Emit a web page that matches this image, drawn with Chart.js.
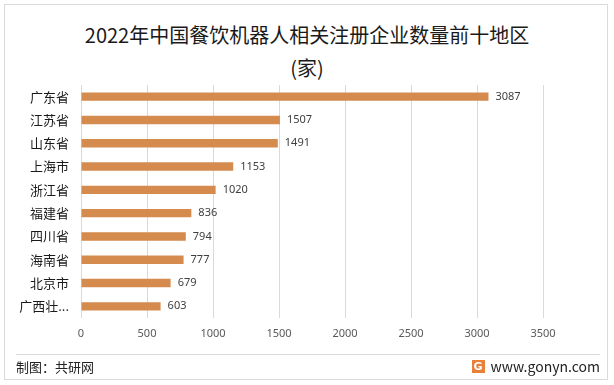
<!DOCTYPE html>
<html>
<head>
<meta charset="utf-8">
<script src="https://cdn.jsdelivr.net/npm/chart.js@4.4.0/dist/chart.umd.min.js"></script>
<style>
  html, body { margin: 0; padding: 0; background: #fff; }
  #wrap { position: relative; width: 614px; height: 385px; overflow: hidden;
          font-family: "Noto Sans CJK SC", "Noto Sans", sans-serif; }
  #frame { position: absolute; left: 4px; top: 4px; width: 604px; height: 376px;
           border: 1px solid #d9d9d9; box-sizing: border-box; }
  #title { position: absolute; left: 0; width: 614px; top: 18px; text-align: center;
           font-size: 20px; line-height: 33px; color: #1a1a1a; }
  #chart { position: absolute; left: 0; top: 0; }
  #sep { position: absolute; left: 16px; width: 584px; top: 354px; height: 1px; background: #d9d9d9; }
  #src { position: absolute; left: 16px; top: 357px; font-size: 13px; color: #222; }
  #site { position: absolute; right: 14px; top: 356px; font-size: 14px; color: #222;
          display: flex; align-items: center; }
  #logo { width: 13px; height: 13px; background: #e8803a; color: #fff; font-size: 11px;
          font-weight: bold; line-height: 13px; text-align: center; margin-right: 6px;
          font-family: "DejaVu Sans", sans-serif; }
</style>
</head>
<body>
<div id="wrap">
  <div id="frame"></div>
  <div id="title">2022年中国餐饮机器人相关注册企业数量前十地区<br>(家)</div>
  <canvas id="chart" width="614" height="385"></canvas>
  <div id="sep"></div>
  <div id="src">制图：共研网</div>
  <div id="site"><div id="logo">G</div>www.gonyn.com</div>
</div>
<script>
"use strict";

/* ── Data ─────────────────────────────────────────────────────────────── */
const regions = ["广东省", "江苏省", "山东省", "上海市", "浙江省",
                 "福建省", "四川省", "海南省", "北京市", "广西壮..."];
const companies = [3087, 1507, 1491, 1153, 1020, 836, 794, 777, 679, 603];
const xTicks = [0, 500, 1000, 1500, 2000, 2500, 3000, 3500];

/* ── Value labels at bar ends ─────────────────────────────────────────── */
const valueLabels = {
  id: "valueLabels",
  afterDatasetsDraw(chart) {
    const { ctx } = chart;
    const meta = chart.getDatasetMeta(0);
    ctx.save();
    ctx.font = "11px 'Noto Sans', 'DejaVu Sans', sans-serif";
    ctx.fillStyle = "#404040";
    ctx.textBaseline = "middle";
    ctx.textAlign = "left";
    meta.data.forEach((bar, i) => {
      ctx.fillText(String(companies[i]), bar.x + 7, bar.y);
    });
    ctx.restore();
  },
};

function initChart() {
  const ctx = document.getElementById("chart").getContext("2d");
  new Chart(ctx, {
    type: "bar",
    data: {
      labels: regions,
      datasets: [{
        data: companies,
        backgroundColor: "#d58b4e",
        barPercentage: 0.36,
        categoryPercentage: 1,
      }],
    },
    options: {
      indexAxis: "y",
      responsive: false,
      animation: false,
      layout: { padding: { left: 0, right: 71, top: 85, bottom: 37 } },
      plugins: { legend: { display: false }, tooltip: { enabled: false } },
      scales: {
        x: {
          min: 0,
          max: 3500,
          afterBuildTicks: (scale) => { scale.ticks = xTicks.map((v) => ({ value: v })); },
          afterFit: (scale) => { scale.height = 30; },
          grid: { color: "#d9d9d9", drawTicks: false },
          border: { display: false },
          ticks: {
            padding: 9,
            color: "#595959",
            font: { family: "'Noto Sans', 'DejaVu Sans', sans-serif", size: 11 },
            callback: (v) => String(v),
          },
        },
        y: {
          afterFit: (scale) => { scale.width = 81; },
          grid: { display: false, drawTicks: false },
          border: { display: false },
          ticks: {
            padding: 12,
            color: "#1a1a1a",
            font: { family: "'Noto Sans CJK SC', sans-serif", size: 13 },
          },
        },
      },
    },
    plugins: [valueLabels],
  });
}

document.addEventListener("DOMContentLoaded", initChart);
</script>
</body>
</html>
